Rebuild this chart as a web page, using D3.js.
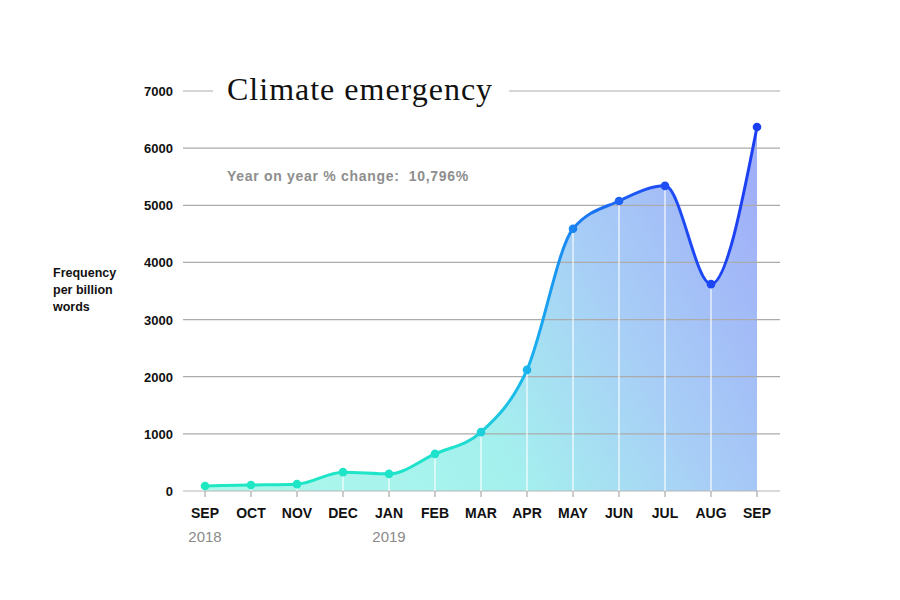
<!DOCTYPE html>
<html><head><meta charset="utf-8">
<script src="https://cdn.jsdelivr.net/npm/d3@7"></script>
<style>body{margin:0;background:#fff;}svg{display:block;}text{white-space:pre;}</style>
</head><body>
<svg id="c" width="900" height="600"></svg>
<script>
const months = ["SEP","OCT","NOV","DEC","JAN","FEB","MAR","APR","MAY","JUN","JUL","AUG","SEP"];
const years = [{i:0,label:"2018"},{i:4,label:"2019"}];
const values = [88,105,120,330,300,650,1030,2120,4590,5075,5340,3620,6370];
const yTicks = [0,1000,2000,3000,4000,5000,6000,7000];
const title = "Climate emergency";
const subtitle = "Year on year % change:  10,796%";
const yTitle = ["Frequency","per billion","words"];

const svg = d3.select("#c");
const x = d3.scalePoint().domain(d3.range(months.length)).range([205,757]);
const y = d3.scaleLinear().domain([0,7000]).range([491,91]);
const gridL = 183, gridR = 780;

const defs = svg.append("defs");
const fg = defs.append("linearGradient").attr("id","fillG").attr("gradientUnits","userSpaceOnUse")
  .attr("x1",205).attr("y1",491).attr("x2",757).attr("y2",200);
[[0,"#adf8ea"],[0.45,"#a4f0ee"],[0.7,"#a8d0f6"],[1,"#a0b0f8"]].forEach(s=>fg.append("stop").attr("offset",s[0]).attr("stop-color",s[1]));
const lg = defs.append("linearGradient").attr("id","lineG").attr("gradientUnits","userSpaceOnUse")
  .attr("x1",205).attr("y1",0).attr("x2",757).attr("y2",0);
[[0,"#1ee8c2"],[0.45,"#1ee2cc"],[0.58,"#19b6ee"],[0.68,"#1a7cf2"],[0.8,"#1f50f5"],[1,"#1b3ef2"]].forEach(s=>lg.append("stop").attr("offset",s[0]).attr("stop-color",s[1]));

const curve = d3.curveMonotoneX;
svg.append("path").datum(values)
  .attr("d", d3.area().x((d,i)=>x(i)).y0(y(0)).y1(d=>y(d)).curve(curve))
  .attr("fill","url(#fillG)");

svg.append("g").selectAll("line").data(yTicks).join("line")
  .attr("x1",gridL).attr("x2",gridR).attr("y1",d=>y(d)).attr("y2",d=>y(d))
  .attr("stroke",d=>d===0?"#b5b5b5":"#ababab").attr("stroke-width",1.2);

svg.append("g").selectAll("text").data(yTicks).join("text")
  .attr("x",173).attr("y",d=>y(d)+5).attr("text-anchor","end")
  .attr("font-family","Liberation Sans, Arial, sans-serif").attr("font-weight","bold")
  .attr("font-size",13).attr("fill","#111").text(d=>d);

svg.append("g").selectAll("line").data(values.slice(1,12)).join("line")
  .attr("x1",(d,i)=>x(i+1)).attr("x2",(d,i)=>x(i+1))
  .attr("y1",d=>y(d)).attr("y2",y(0))
  .attr("stroke","#ffffff").attr("stroke-opacity",0.75).attr("stroke-width",1.5);

svg.append("g").selectAll("line").data(months).join("line")
  .attr("x1",(d,i)=>x(i)).attr("x2",(d,i)=>x(i)).attr("y1",y(0)).attr("y2",y(0)+6)
  .attr("stroke","#aaa").attr("stroke-width",1.2);

svg.append("path").datum(values)
  .attr("d", d3.line().x((d,i)=>x(i)).y(d=>y(d)).curve(curve))
  .attr("fill","none").attr("stroke","url(#lineG)").attr("stroke-width",3)
  .attr("stroke-linejoin","round").attr("stroke-linecap","round");

svg.append("g").selectAll("circle").data(values).join("circle")
  .attr("cx",(d,i)=>x(i)).attr("cy",d=>y(d)).attr("r",4.3)
  .attr("fill","url(#lineG)");

svg.append("g").selectAll("text").data(months).join("text")
  .attr("x",(d,i)=>x(i)).attr("y",518).attr("text-anchor","middle")
  .attr("font-family","Liberation Sans, Arial, sans-serif").attr("font-weight","bold")
  .attr("font-size",14).attr("fill","#111").text(d=>d);
svg.append("g").selectAll("text").data(years).join("text")
  .attr("x",d=>x(d.i)).attr("y",542).attr("text-anchor","middle")
  .attr("font-family","Liberation Sans, Arial, sans-serif")
  .attr("font-size",15).attr("fill","#8a8a8a").text(d=>d.label);

const tRect = svg.append("rect").attr("fill","#fff");
const t = svg.append("text").attr("x",227).attr("y",y(7000)+9)
  .attr("font-family","Liberation Serif, DejaVu Serif, serif")
  .attr("font-size",32).attr("fill","#111").attr("letter-spacing",1).text(title);
const bb = t.node().getBBox();
tRect.attr("x",bb.x-14).attr("y",y(7000)-3).attr("width",bb.width+30).attr("height",6);

svg.append("text").attr("x",227).attr("y",181)
  .attr("font-family","Liberation Sans, Arial, sans-serif").attr("font-weight","bold")
  .attr("font-size",14).attr("letter-spacing",0.7).attr("fill","#8e8e8e").text(subtitle);

svg.append("g").selectAll("text").data(yTitle).join("text")
  .attr("x",53).attr("y",(d,i)=>277+i*17)
  .attr("font-family","Liberation Sans, Arial, sans-serif").attr("font-weight","bold")
  .attr("font-size",12.5).attr("fill","#111").text(d=>d);
</script>
</body></html>
